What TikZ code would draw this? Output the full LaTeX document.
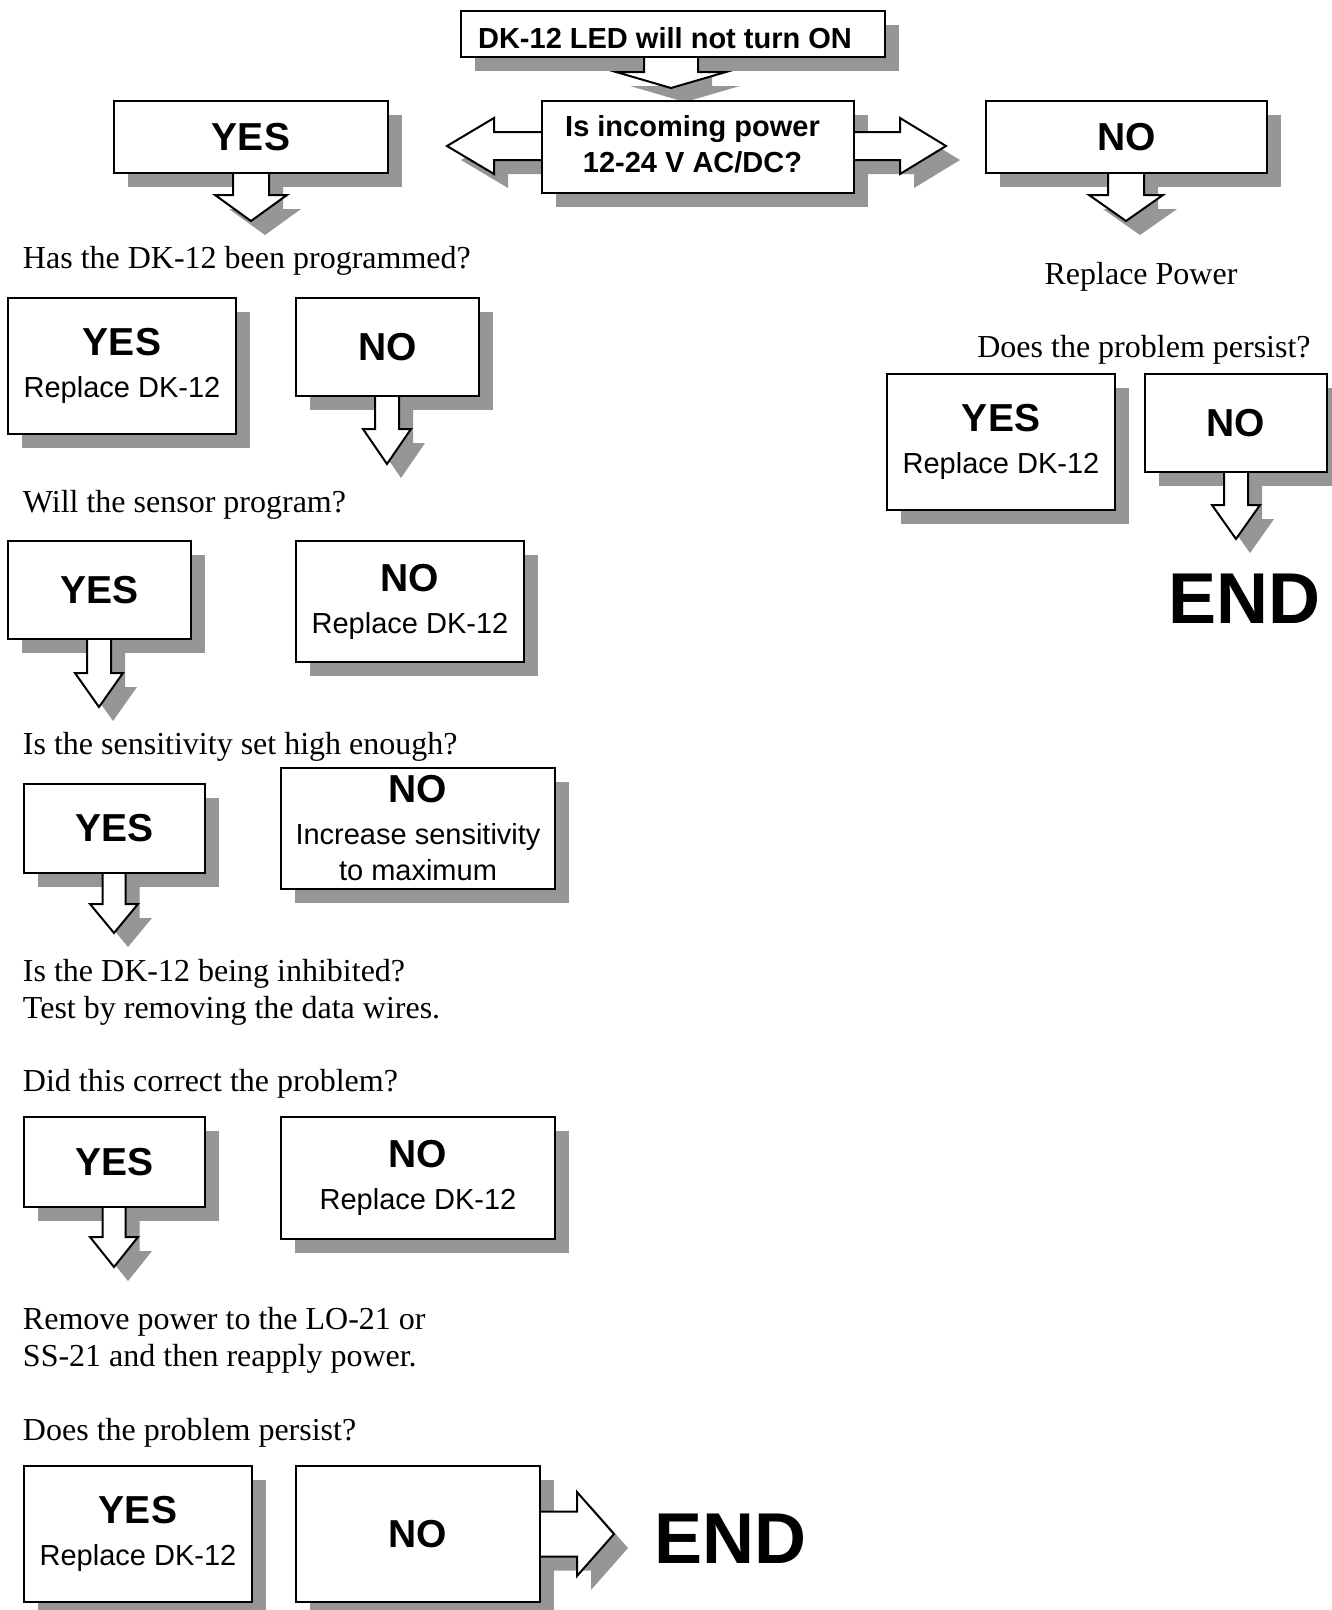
\documentclass[tikz,border=0pt]{standalone}
\usepackage{fontspec}
\setmainfont{Liberation Serif}
\setsansfont{Liberation Sans}
\usetikzlibrary{calc}
\definecolor{shd}{RGB}{150,150,150}
\pgfdeclarelayer{back}
\pgfdeclarelayer{shadow}
\pgfdeclarelayer{mid}
\pgfsetlayers{back,shadow,mid,main}
\tikzset{
  boxst/.style={draw, line width=2pt, fill=white, inner sep=0pt, outer sep=0pt,
    align=center, anchor=north west, font=\sffamily\fontsize{29}{36}\selectfont},
  boldbox/.style={boxst, font=\sffamily\bfseries\fontsize{29}{36}\selectfont},
  lab/.style={font=\rmfamily\fontsize{32}{37}\selectfont, inner sep=0pt, outer sep=0pt},
  endst/.style={font=\sffamily\bfseries\fontsize{72}{80}\selectfont, inner sep=0pt, outer sep=0pt},
  arrline/.style={draw=black, line width=2pt, fill=white, line join=miter},
}
\newcommand\yn[1]{{\bfseries\fontsize{39}{40}\selectfont #1}}
\newcommand\lowr[2]{\raisebox{-#1}[\height][\depth]{#2}}
% down block arrow: #1 start anchor, #2 tip, #3 shaft half, #4 head half, #5 head length
\newcommand\dnarrow[5]{%
  \begin{pgfonlayer}{shadow}
    \fill[shd] let \p1=(#1), \p2=(#2) in
      ({\x2-#3pt+14pt},{\y1-14pt}) -- ({\x2-#3pt+14pt},{\y2+#5pt-14pt}) --
      ({\x2-#4pt+14pt},{\y2+#5pt-14pt}) -- ({\x2+14pt},{\y2-14pt}) --
      ({\x2+#4pt+14pt},{\y2+#5pt-14pt}) -- ({\x2+#3pt+14pt},{\y2+#5pt-14pt}) --
      ({\x2+#3pt+14pt},{\y1-14pt}) -- cycle;
  \end{pgfonlayer}
  \begin{pgfonlayer}{mid}
    \draw[arrline] let \p1=(#1), \p2=(#2) in
      ({\x2-#3pt},\y1) -- ({\x2-#3pt},{\y2+#5pt}) -- ({\x2-#4pt},{\y2+#5pt}) --
      (\x2,\y2) -- ({\x2+#4pt},{\y2+#5pt}) -- ({\x2+#3pt},{\y2+#5pt}) -- ({\x2+#3pt},\y1);
  \end{pgfonlayer}}
% horizontal block arrow: #5 signed head length (+ rightward)
\newcommand\hzarrow[5]{%
  \begin{pgfonlayer}{shadow}
    \fill[shd] let \p1=(#1), \p2=(#2) in
      ({\x1+14pt},{\y2+#3pt-14pt}) -- ({\x2-(#5pt)+14pt},{\y2+#3pt-14pt}) --
      ({\x2-(#5pt)+14pt},{\y2+#4pt-14pt}) -- ({\x2+14pt},{\y2-14pt}) --
      ({\x2-(#5pt)+14pt},{\y2-#4pt-14pt}) -- ({\x2-(#5pt)+14pt},{\y2-#3pt-14pt}) --
      ({\x1+14pt},{\y2-#3pt-14pt}) -- cycle;
  \end{pgfonlayer}
  \begin{pgfonlayer}{mid}
    \draw[arrline] let \p1=(#1), \p2=(#2) in
      (\x1,{\y2+#3pt}) -- ({\x2-(#5pt)},{\y2+#3pt}) -- ({\x2-(#5pt)},{\y2+#4pt}) --
      (\x2,\y2) -- ({\x2-(#5pt)},{\y2-#4pt}) -- ({\x2-(#5pt)},{\y2-#3pt}) -- (\x1,{\y2-#3pt});
  \end{pgfonlayer}}
\begin{document}
\begin{tikzpicture}[x=1pt,y=-1pt]
\useasboundingbox (0,0) rectangle (1332,1610);
\begin{pgfonlayer}{back}
  \fill[white] (0,0) rectangle (1332,1610);
\end{pgfonlayer}

% boxes
\node[boldbox, minimum width=424, minimum height=46] (t) at (461,11) {\lowr{4pt}{DK-12 LED will not turn ON}\hspace*{16pt}};
\node[boldbox, minimum width=312, minimum height=92] (q) at (542,101) {\lowr{-3pt}{Is incoming power}\hspace*{11pt}\\\lowr{-3pt}{12-24 V AC/DC?}\hspace*{11pt}};
\node[boxst, minimum width=274, minimum height=72] (y1) at (114,101) {\yn{YES}};
\node[boxst, minimum width=281, minimum height=72] (n1) at (986,101) {\yn{NO}};
\node[boxst, minimum width=228, minimum height=136] (y2) at (8,298) {\yn{YES}\\[6pt]Replace DK-12};
\node[boxst, minimum width=183, minimum height=98] (n2) at (296,298) {\yn{NO}};
\node[boxst, minimum width=183, minimum height=98] (y3) at (8,541) {\yn{YES}};
\node[boxst, minimum width=228, minimum height=121] (n3) at (296,541) {\yn{NO}\\[6pt]Replace DK-12};
\node[boxst, minimum width=228, minimum height=136] (yr) at (887,374) {\yn{YES}\\[6pt]Replace DK-12};
\node[boxst, minimum width=182, minimum height=98] (nr) at (1145,374) {\yn{NO}};
\node[boxst, minimum width=181, minimum height=89] (y4) at (24,784) {\yn{YES}};
\node[boxst, minimum width=274, minimum height=121] (n4) at (281,768) {\yn{NO}\\[6pt]Increase sensitivity\\to maximum};
\node[boxst, minimum width=181, minimum height=90] (y5) at (24,1117) {\yn{YES}};
\node[boxst, minimum width=274, minimum height=122] (n5) at (281,1117) {\yn{NO}\\[6pt]Replace DK-12};
\node[boxst, minimum width=228, minimum height=136] (y6) at (24,1466) {\yn{YES}\\[6pt]Replace DK-12};
\node[boxst, minimum width=244, minimum height=136] (n6) at (296,1466) {\yn{NO}};

\begin{pgfonlayer}{shadow}
  \foreach \n in {t,q,y1,n1,y2,n2,y3,n3,yr,nr,y4,n4,y5,n5,y6,n6}
    \fill[shd] ([shift={(14pt,-14pt)}]\n.south west) rectangle ([shift={(14pt,-14pt)}]\n.north east);
\end{pgfonlayer}

% texts
\node[lab, anchor=base west] (s1) at (23,268) {Has the DK-12 been programmed?};
\node[lab, anchor=base] (s2) at (1141,284) {Replace Power};
\node[lab, anchor=base] (s3) at (1144,357) {Does the problem persist?};
\node[lab, anchor=base west] (s4) at (23,512) {Will the sensor program?};
\node[lab, anchor=base west] (s5) at (23,754) {Is the sensitivity set high enough?};
\node[lab, anchor=base west, align=left] (s6) at (23,1018) {Is the DK-12 being inhibited?\\Test by removing the data wires.};
\node[lab, anchor=base west] (s7) at (23,1091) {Did this correct the problem?};
\node[lab, anchor=base west, align=left] (s8) at (23,1366) {Remove power to the LO-21 or\\SS-21 and then reapply power.};
\node[lab, anchor=base west] (s9) at (23,1440) {Does the problem persist?};
\node[endst, anchor=base west] (e1) at (1168,623) {END};
\node[endst, anchor=base west] (e2) at (654,1563) {END};

% arrow tips
\coordinate (c0) at (671,88);
\coordinate (c1) at (447,146);
\coordinate (c2) at (946,146);
\coordinate (c3) at (251,221);
\coordinate (c4) at (1126,221);
\coordinate (c5) at (387,464);
\coordinate (c6) at (99,707);
\coordinate (c7) at (1236,539);
\coordinate (c8) at (114,933);
\coordinate (c9) at (114,1267);
\coordinate (c10) at (614,1534);

\dnarrow{t.south}{c0}{27}{55}{16}
\hzarrow{q.west}{c1}{14}{28}{-47}
\hzarrow{q.east}{c2}{14}{28}{46}
\dnarrow{y1.south}{c3}{18}{36}{26}
\dnarrow{n1.south}{c4}{18}{37}{26}
\dnarrow{n2.south}{c5}{12}{24}{35}
\dnarrow{y3.south}{c6}{12}{24}{34}
\dnarrow{nr.south}{c7}{12}{24}{34}
\dnarrow{y4.south}{c8}{11.5}{24}{29}
\dnarrow{y5.south}{c9}{11.5}{24}{30}
\hzarrow{n6.east}{c10}{22.5}{42}{37}
\end{tikzpicture}
\end{document}
